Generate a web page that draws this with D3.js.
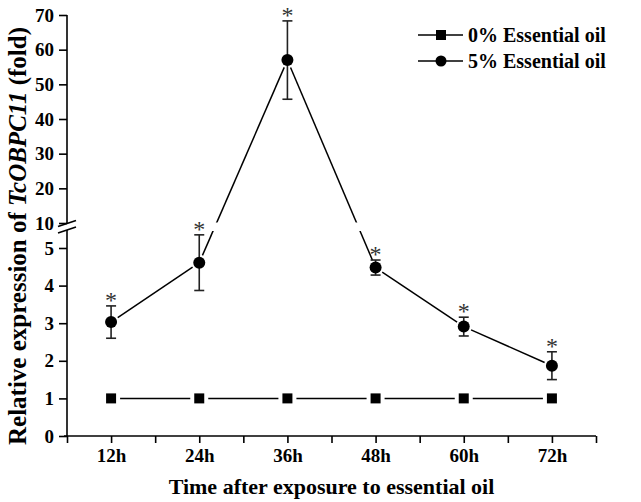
<!DOCTYPE html>
<html>
<head>
<meta charset="utf-8">
<script src="https://cdn.jsdelivr.net/npm/d3@7"></script>
<style>
  html, body { margin: 0; padding: 0; background: #fff; }
  svg { display: block; }
  text { font-family: "Liberation Serif", "Times New Roman", serif; font-weight: bold; fill: #000; }
</style>
</head>
<body>
<svg id="chart" width="641" height="502"></svg>
<script>
// ---- data ----
const times = [12, 24, 36, 48, 60, 72];
const control = [1, 1, 1, 1, 1, 1];
const treated = [3.03, 4.61, 57.0, 4.48, 2.91, 1.87];
const treatedErr = [0.43, 0.74, 11.3, 0.20, 0.25, 0.37];
const significant = [true, true, true, true, true, true];
const xTicks = [6, 12, 18, 24, 30, 36, 42, 48, 54, 60, 66, 72, 78];
const xLabels = ["12h", "24h", "36h", "48h", "60h", "72h"];
const yLowTicks = [0, 1, 2, 3, 4, 5];
const yHighTicks = [10, 20, 30, 40, 50, 60, 70];
const seriesNames = ["0% Essential oil", "5% Essential oil"];

// ---- layout ----
const svg = d3.select("#chart");
const x = d3.scaleLinear().domain([6, 78]).range([67, 596]);
const yLow = d3.scaleLinear().domain([0, 5]).range([436, 248]);
const yHigh = d3.scaleLinear().domain([10, 70]).range([223, 15]);
const y = v => (v <= 7.5 ? yLow(v) : yHigh(v));
const breakTop = yHigh(10) + 0.5;
const breakBottom = breakTop + 6.5;
const axisX = x.range()[0];

// clip to exclude break band
const defs = svg.append("defs");
const cp = defs.append("clipPath").attr("id", "gapclip");
cp.append("rect").attr("x", 0).attr("y", 0).attr("width", 641).attr("height", breakTop - 1);
cp.append("rect").attr("x", 0).attr("y", breakBottom + 1).attr("width", 641).attr("height", 502 - breakBottom);

// ---- axes ----
const axStroke = "#000";
const gxa = svg.append("g").attr("transform", `translate(0,${yLow(0)})`)
  .call(d3.axisBottom(x).tickValues(xTicks).tickSize(7).tickPadding(6)
    .tickFormat(d => { const i = times.indexOf(d); return i >= 0 ? xLabels[i] : ""; }));
gxa.select(".domain").attr("stroke-width", 1.6).attr("d", `M${axisX - 3},0H${x.range()[1]}`);
gxa.selectAll(".tick line").attr("stroke-width", 1.6);
gxa.selectAll(".tick text").style("font-size", "19px");

function yAxis(scale, ticks) {
  const g = svg.append("g").attr("transform", `translate(${axisX},0)`)
    .call(d3.axisLeft(scale).tickValues(ticks).tickSize(8).tickPadding(5).tickFormat(d3.format("d")));
  g.select(".domain").remove();
  g.selectAll(".tick line").attr("stroke-width", 1.6);
  g.selectAll(".tick text").style("font-size", "19px");
  return g;
}
yAxis(yLow, yLowTicks);
yAxis(yHigh, yHighTicks);
svg.append("line").attr("x1", axisX).attr("x2", axisX).attr("y1", yLow(0)).attr("y2", breakBottom)
  .attr("stroke", axStroke).attr("stroke-width", 1.6);
svg.append("line").attr("x1", axisX).attr("x2", axisX).attr("y1", yHigh(70)).attr("y2", breakTop)
  .attr("stroke", axStroke).attr("stroke-width", 1.6);
[breakTop, breakBottom].forEach(by => {
  svg.append("line").attr("x1", axisX - 9).attr("y1", by + 3).attr("x2", axisX + 9).attr("y2", by - 3)
    .attr("stroke", axStroke).attr("stroke-width", 1.6);
});

// axis titles
svg.append("text").attr("x", (x.range()[0] + x.range()[1]) / 2).attr("y", 494)
  .attr("text-anchor", "middle").style("font-size", "22px").text("Time after exposure to essential oil");
const yt = svg.append("text").attr("transform", "translate(26,236) rotate(-90)")
  .attr("text-anchor", "middle").style("font-size", "25px");
yt.append("tspan").text("Relative expression of ");
yt.append("tspan").attr("font-style", "italic").text("TcOBPC11");
yt.append("tspan").text(" (fold)");

// ---- series lines ----
function drawSegments(vals, shrink) {
  const g = svg.append("g").attr("clip-path", "url(#gapclip)");
  for (let i = 0; i < vals.length - 1; i++) {
    const x0 = x(times[i]), y0 = y(vals[i]), x1 = x(times[i + 1]), y1 = y(vals[i + 1]);
    const dx = x1 - x0, dy = y1 - y0, L = Math.hypot(dx, dy);
    const ux = dx / L, uy = dy / L;
    g.append("line")
      .attr("x1", x0 + ux * shrink).attr("y1", y0 + uy * shrink)
      .attr("x2", x1 - ux * shrink).attr("y2", y1 - uy * shrink)
      .attr("stroke", "#000").attr("stroke-width", 1.5);
  }
}
drawSegments(control, 9);
drawSegments(treated, 8);

// squares
svg.append("g").selectAll("rect").data(control).join("rect")
  .attr("x", (d, i) => x(times[i]) - 5).attr("y", d => y(d) - 5)
  .attr("width", 10).attr("height", 10).attr("fill", "#000");

// error bars
const eb = svg.append("g").attr("stroke", "#222").attr("stroke-width", 1.6);
treated.forEach((v, i) => {
  const cx = x(times[i]);
  const top = y(v + treatedErr[i]), bot = y(v - treatedErr[i]);
  eb.append("line").attr("x1", cx).attr("x2", cx).attr("y1", top).attr("y2", bot);
  eb.append("line").attr("x1", cx - 5).attr("x2", cx + 5).attr("y1", top).attr("y2", top);
  eb.append("line").attr("x1", cx - 5).attr("x2", cx + 5).attr("y1", bot).attr("y2", bot);
});
// circles
svg.append("g").selectAll("circle").data(treated).join("circle")
  .attr("cx", (d, i) => x(times[i])).attr("cy", d => y(d)).attr("r", 6).attr("fill", "#000");

// asterisks
svg.append("g").selectAll("text").data(treated).join("text")
  .filter((d, i) => significant[i])
  .attr("x", (d, i) => x(times[i])).attr("y", (d, i) => y(d + treatedErr[i]) + 2)
  .attr("text-anchor", "middle").style("font-size", "24px").style("font-weight", "normal")
  .style("fill", "#333").text("*");

// ---- legend ----
const leg = svg.append("g");
const legY = [35, 61];
seriesNames.forEach((name, i) => {
  const ly = legY[i];
  leg.append("line").attr("x1", 418).attr("x2", 463).attr("y1", ly).attr("y2", ly)
    .attr("stroke", "#000").attr("stroke-width", 1.5);
  if (i === 0) {
    leg.append("rect").attr("x", 436).attr("y", ly - 5).attr("width", 10).attr("height", 10).attr("fill", "#000");
  } else {
    leg.append("circle").attr("cx", 441).attr("cy", ly).attr("r", 5.5).attr("fill", "#000");
  }
  leg.append("text").attr("x", 468).attr("y", ly + 6.5).style("font-size", "20px").text(name);
});
</script>
</body>
</html>
